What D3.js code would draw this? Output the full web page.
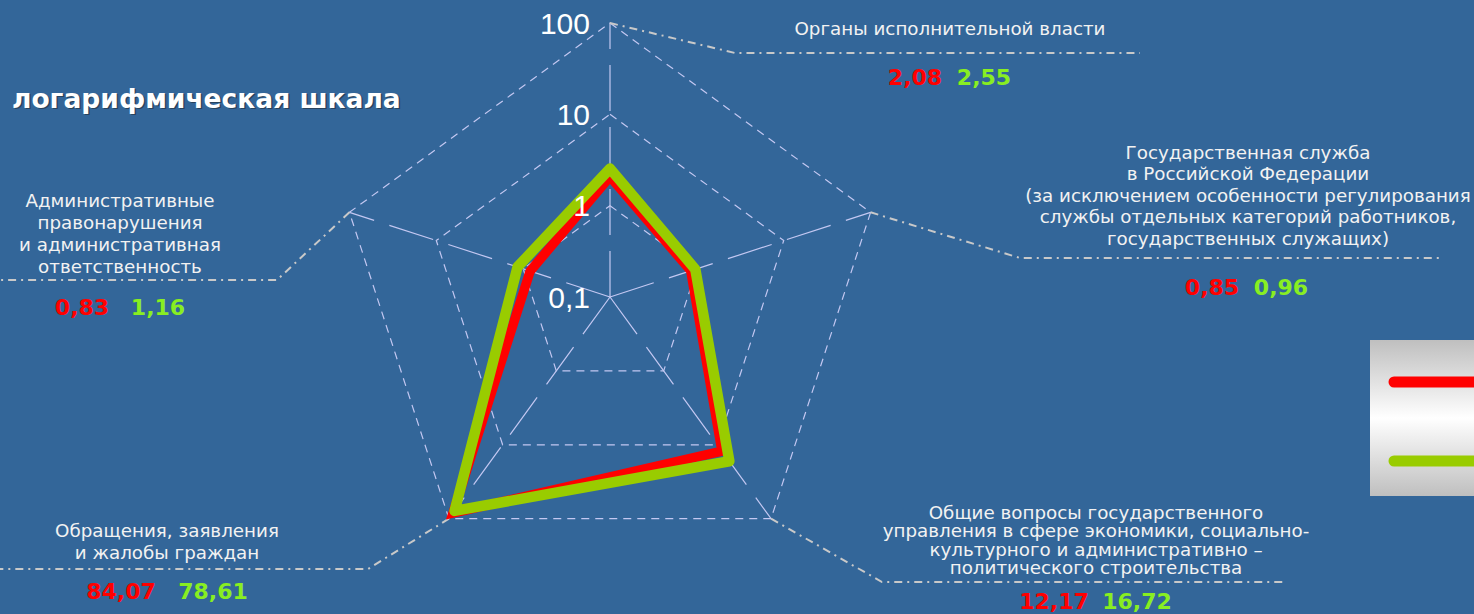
<!DOCTYPE html>
<html><head><meta charset="utf-8">
<script src="https://cdn.jsdelivr.net/npm/d3@7"></script>
<style>html,body{margin:0;padding:0;background:#336699;overflow:hidden}</style>
</head><body>
<svg id="c" width="1474" height="614"></svg>
<script>
const categories = [
  ["Органы исполнительной власти"],
  ["Государственная служба","в Российской Федерации","(за исключением особенности регулирования","службы отдельных категорий работников,","государственных служащих)"],
  ["Общие вопросы государственного","управления в сфере экономики, социально-","культурного и административно –","политического строительства"],
  ["Обращения, заявления","и жалобы граждан"],
  ["Административные","правонарушения","и административная","ответственность"]
];
const seriesRed = [2.08, 0.85, 12.17, 84.07, 0.83];
const seriesGreen = [2.55, 0.96, 16.72, 78.61, 1.16];
const redLabels = ["2,08","0,85","12,17","84,07","0,83"];
const greenLabels = ["2,55","0,96","16,72","78,61","1,16"];
const tickValues = [0.1, 1, 10, 100];
const tickLabels = ["0,1","1","10","100"];
const title = "логарифмическая шкала";

const svg = d3.select("#c");
const cx = 610, cy = 297;
const r = d3.scaleLog().domain([0.1, 100]).range([0, 274]);
const n = categories.length;
const ang = i => i * 2 * Math.PI / n;
const pt = (i, v) => [cx + r(v) * Math.sin(ang(i)), cy - r(v) * Math.cos(ang(i))];

const gridCol = "#c4c8f2";
// rings
tickValues.filter(v => v > 0.1).forEach(v => {
  svg.append("path")
    .attr("d", d3.line().curve(d3.curveLinearClosed)(d3.range(n).map(i => pt(i, v))))
    .attr("fill", "none").attr("stroke", gridCol).attr("stroke-width", 1.2)
    .attr("stroke-dasharray", "8,6");
});
// spokes
d3.range(n).forEach(i => {
  const p = pt(i, 100);
  svg.append("line").attr("x1", cx).attr("y1", cy).attr("x2", p[0]).attr("y2", p[1])
    .attr("stroke", gridCol).attr("stroke-width", 1.2).attr("stroke-dasharray", "46,16");
});

// leader lines
const leader = [
  [[735,53],[1140,53]],
  [[1020,258],[1440,258]],
  [[882,582],[1286,582]],
  [[368,569],[0,569]],
  [[277,280],[0,280]]
];
leader.forEach((l, i) => {
  const p = pt(i, 100);
  svg.append("path").attr("d", d3.line()([p, ...l]))
    .attr("fill", "none").attr("stroke", "#c9c9c9").attr("stroke-width", 2)
    .attr("stroke-dasharray", "8,5,2,5");
});

// series
const line = d3.line().curve(d3.curveLinearClosed);
svg.append("path").attr("d", line(seriesRed.map((v, i) => pt(i, v))))
  .attr("fill", "none").attr("stroke", "#ff0000").attr("stroke-width", 9.5).attr("stroke-linejoin", "miter");
svg.append("path").attr("d", line(seriesGreen.map((v, i) => pt(i, v))))
  .attr("fill", "none").attr("stroke", "#99cc00").attr("stroke-width", 10.5).attr("stroke-linejoin", "round");

// tick labels
tickValues.forEach((v, k) => {
  svg.append("text").attr("x", 590).attr("y", cy - r(v)).attr("dy", "0.36em")
    .attr("text-anchor", "end").attr("fill", "#fff")
    .attr("font-family", "Liberation Sans, Arial, sans-serif").attr("font-size", 30)
    .text(tickLabels[k]);
});

// category labels
const font = "DejaVu Sans, Verdana, sans-serif";
const labPos = [
  {x: 950, y: 28, lh: 21, vx: [915, 984], vy: 77},
  {x: 1248, y: 152, lh: 21.5, vx: [1212, 1281], vy: 287},
  {x: 1096, y: 512, lh: 18.5, vx: [1054, 1137], vy: 601},
  {x: 167, y: 530, lh: 22, vx: [121, 213], vy: 591},
  {x: 120, y: 200, lh: 22, vx: [82, 158], vy: 307}
];
categories.forEach((lines, i) => {
  const p = labPos[i];
  const t = svg.append("text").attr("text-anchor", "middle").attr("fill", "#f2f2f2")
    .attr("font-family", font).attr("font-size", 18.3);
  lines.forEach((s, j) => t.append("tspan").attr("x", p.x).attr("y", p.y + j * p.lh).attr("dy", "0.36em").text(s));
  svg.append("text").attr("x", p.vx[0]).attr("y", p.vy).attr("dy", "0.36em").attr("text-anchor", "middle")
    .attr("fill", "#ff0000").attr("font-family", font).attr("font-weight", "bold").attr("font-size", 22)
    .text(redLabels[i]);
  svg.append("text").attr("x", p.vx[1]).attr("y", p.vy).attr("dy", "0.36em").attr("text-anchor", "middle")
    .attr("fill", "#88ee22").attr("font-family", font).attr("font-weight", "bold").attr("font-size", 22)
    .text(greenLabels[i]);
});

// title
svg.append("text").attr("x", 12).attr("y", 98).attr("dy", "0.36em")
  .attr("fill", "#222").attr("opacity", 0.5).attr("font-family", font).attr("font-weight", "bold").attr("font-size", 26.5)
  .attr("transform", "translate(1.5,1.5)").text(title);
svg.append("text").attr("x", 12).attr("y", 98).attr("dy", "0.36em")
  .attr("fill", "#fff").attr("font-family", font).attr("font-weight", "bold").attr("font-size", 26.5)
  .text(title);

// legend
const defs = svg.append("defs");
const g = defs.append("linearGradient").attr("id", "lg").attr("x1", 0).attr("y1", 0).attr("x2", 0).attr("y2", 1);
g.append("stop").attr("offset", "0%").attr("stop-color", "#bfbfbf");
g.append("stop").attr("offset", "50%").attr("stop-color", "#ffffff");
g.append("stop").attr("offset", "100%").attr("stop-color", "#bfbfbf");
svg.append("rect").attr("x", 1370).attr("y", 340).attr("width", 110).attr("height", 156).attr("fill", "url(#lg)");
[["#ff0000", 382], ["#99cc00", 461]].forEach(([c, y]) => {
  svg.append("line").attr("x1", 1394).attr("x2", 1490).attr("y1", y).attr("y2", y)
    .attr("stroke", c).attr("stroke-width", 11).attr("stroke-linecap", "round");
});
</script>
</body></html>
